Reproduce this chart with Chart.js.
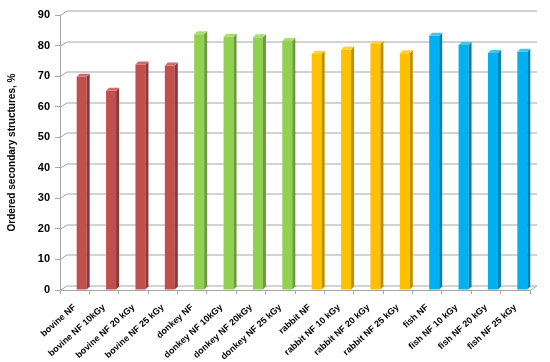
<!DOCTYPE html>
<html>
<head>
<meta charset="utf-8">
<script src="https://cdn.jsdelivr.net/npm/chart.js@4.4.1/dist/chart.umd.min.js"></script>
<style>
    html, body { margin: 0; padding: 0; background: #ffffff; }
    #wrap { width: 550px; height: 362px; }
</style>
</head>
<body>
<div id="wrap"><canvas id="chart"></canvas></div>
<script>
// Chart data
const categories = [
    'bovine NF', 'bovine NF 10kGy', 'bovine NF 20 kGy', 'bovine NF 25 kGy',
    'donkey NF', 'donkey NF 10kGy', 'donkey NF 20kGy', 'donkey NF 25 kGy',
    'rabbit NF', 'rabbit NF 10 kGy', 'rabbit NF 20 kGy', 'rabbit NF 25 kGy',
    'fish NF', 'fish NF 10 kGy', 'fish NF 20 kGy', 'fish NF 25 kGy'
];
const orderedValues = [
    69.8, 65.2, 73.8, 73.5,
    83.7, 82.9, 82.7, 81.5,
    77.2, 78.7, 80.5, 77.5,
    83.2, 80.2, 77.6, 78.0
];
const yTicks = [0, 10, 20, 30, 40, 50, 60, 70, 80, 90];

// one colour per animal group: [front, side, top]
const groupColors = [
    ['#c0504d', '#8c3836', '#d26c69'],
    ['#92d050', '#6a9c38', '#a9dd74'],
    ['#ffc000', '#bf8f00', '#ffd040'],
    ['#00b0f0', '#0082b4', '#40c6f5']
];
const colorFor = (i, k) => groupColors[Math.floor(i / 4)][k];

const DEPTH_X = 7, DEPTH_Y = -4.5;   // back wall offset
const BAR_DX = 3, BAR_DY = -3;       // bar side/top depth

const threeD = {
    id: 'threeD',
    beforeDatasetsDraw(chart) {
        const { ctx, chartArea: a, scales: { y } } = chart;
        ctx.save();
        ctx.strokeStyle = '#a6a6a6';
        ctx.lineWidth = 1;
        yTicks.forEach(v => {
            const py = Math.round(y.getPixelForValue(v)) + 0.5;
            ctx.beginPath();
            ctx.moveTo(a.left, py);
            ctx.lineTo(a.left + DEPTH_X, py + DEPTH_Y);
            ctx.lineTo(a.right + DEPTH_X, py + DEPTH_Y);
            ctx.stroke();
        });
        // floor right edge
        const p0 = Math.round(y.getPixelForValue(0)) + 0.5;
        ctx.beginPath();
        ctx.moveTo(a.right, p0);
        ctx.lineTo(a.right + DEPTH_X, p0 + DEPTH_Y);
        ctx.stroke();
        ctx.restore();

        ctx.save();
        ctx.translate(DEPTH_X, 0);
    },
    afterDatasetsDraw(chart) {
        const { ctx } = chart;
        chart.getDatasetMeta(0).data.forEach((el, i) => {
            const { x, y, base, width } = el.getProps(['x', 'y', 'base', 'width'], true);
            const l = x - width / 2, r = x + width / 2;
            ctx.fillStyle = colorFor(i, 1);
            ctx.beginPath();
            ctx.moveTo(r, y);
            ctx.lineTo(r + BAR_DX, y + BAR_DY);
            ctx.lineTo(r + BAR_DX, base + BAR_DY);
            ctx.lineTo(r, base);
            ctx.closePath();
            ctx.fill();
            ctx.fillStyle = colorFor(i, 2);
            ctx.beginPath();
            ctx.moveTo(l, y);
            ctx.lineTo(l + BAR_DX, y + BAR_DY);
            ctx.lineTo(r + BAR_DX, y + BAR_DY);
            ctx.lineTo(r, y);
            ctx.closePath();
            ctx.fill();
        });
        ctx.restore();
    }
};

const boldFont = size => ({ family: '"Liberation Sans", Arial, sans-serif', size: size, weight: 'bold' });

new Chart(document.getElementById('chart'), {
    type: 'bar',
    data: {
        labels: categories,
        datasets: [{
            data: orderedValues,
            backgroundColor: orderedValues.map((v, i) => colorFor(i, 0)),
            borderWidth: 0,
            barPercentage: 0.34,
            categoryPercentage: 1
        }]
    },
    options: {
        responsive: true,
        maintainAspectRatio: false,
        animation: false,
        layout: { padding: { top: 15, right: 20, left: 0, bottom: 0 } },
        plugins: {
            legend: { display: false },
            tooltip: { enabled: false }
        },
        scales: {
            x: {
                grid: {
                    display: true,
                    drawOnChartArea: false,
                    drawTicks: true,
                    tickLength: 4,
                    color: '#a6a6a6'
                },
                border: { display: true, color: '#a6a6a6' },
                ticks: {
                    color: '#000',
                    font: boldFont(9),
                    maxRotation: 42,
                    minRotation: 42,
                    autoSkip: false,
                    padding: 8
                },
                afterFit: scale => { scale.height = 72; }
            },
            y: {
                min: 0,
                max: 90,
                afterBuildTicks: scale => { scale.ticks = yTicks.map(v => ({ value: v })); },
                grid: {
                    display: true,
                    drawOnChartArea: false,
                    drawTicks: true,
                    tickLength: 5,
                    color: '#a6a6a6'
                },
                border: { display: true, color: '#a6a6a6' },
                ticks: {
                    color: '#000',
                    font: boldFont(11),
                    padding: 5
                },
                title: {
                    display: true,
                    text: 'Ordered secondary structures, %',
                    color: '#000',
                    font: boldFont(10),
                    padding: { top: 6, bottom: 0 }
                },
                afterFit: scale => { scale.width = 60; }
            }
        }
    },
    plugins: [threeD]
});
</script>
</body>
</html>
